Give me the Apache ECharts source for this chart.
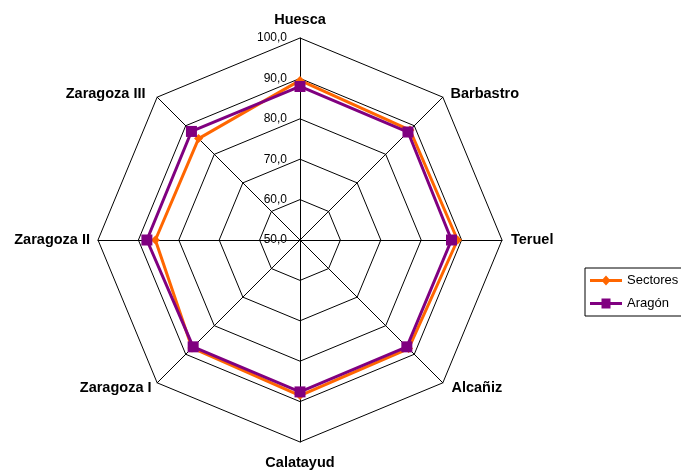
<!DOCTYPE html>
<html><head><meta charset="utf-8">
<script src="https://cdn.jsdelivr.net/npm/echarts@6/dist/echarts.min.js"></script>
<style>html,body{margin:0;padding:0;background:#fff}#c{width:681px;height:471px}</style>
</head><body><div id="c"></div>
<script>
const categories = ['Huesca','Barbastro','Teruel','Alcañiz','Calatayud','Zaragoza I','Zaragoza II','Zaragoza III'];
const sectores = [89.5, 88.5, 89.0, 88.0, 88.5, 87.8, 85.8, 85.5];
const aragon = [88.0, 87.8, 87.5, 87.4, 87.6, 87.4, 87.9, 88.0];
const tickValues = [50, 60, 70, 80, 90, 100];
const axisMin = 50, axisMax = 100;

// ECharts radar runs counter-clockwise; reorder so the chart reads clockwise
const order = [0].concat(categories.map((_, i) => i).slice(1).reverse());
const pick = arr => order.map(i => arr[i]);

const font = 'Liberation Sans, Arial, sans-serif';
const nameBase = { color: '#000', fontFamily: font, fontWeight: 'bold', fontSize: 14.5 };
// per-position label nudges (padding) to match the reference placement
const namePads = [[0,0,3,0],[4,0,0,2],[0,0,0,1],[0,0,0,3],[5,0,0,0],[0,0,0,0],[0,0,0,0],[4,6,0,0]];
const rich = {};
namePads.forEach((p, i) => { rich['n' + i] = Object.assign({ padding: p }, nameBase); });

const orangeIcon = 'path://M0,3.5L32,3.5L32,6.5L0,6.5Z M16,0L20.5,5L16,10L11.5,5Z';
const purpleIcon = 'path://M0,3.5L32,3.5L32,6.5L0,6.5Z M11.5,0L20.5,0L20.5,10L11.5,10Z';
const chart = echarts.init(document.getElementById('c'));
chart.setOption({
  animation: false,
  backgroundColor: '#fff',
  radar: {
    center: [300, 240],
    radius: 202,
    startAngle: 90,
    shape: 'polygon',
    splitNumber: 5,
    nameGap: 8,
    axisName: Object.assign({
      rich: rich,
      formatter: name => '{n' + categories.indexOf(name) + '|' + name + '}'
    }, nameBase),
    indicator: pick(categories).map(n => ({ name: n, min: axisMin, max: axisMax })),
    axisLine: { lineStyle: { color: '#000', width: 1 } },
    splitLine: { lineStyle: { color: '#000', width: 1 } },
    splitArea: { show: false },
    axisLabel: { show: false }
  },
  grid: { left: 300, top: 38, width: 10, height: 202 },
  xAxis: { type: 'value', show: false },
  yAxis: {
    type: 'value', min: axisMin, max: axisMax, interval: 10,
    axisLine: { show: false }, axisTick: { show: false }, splitLine: { show: false },
    axisLabel: { margin: 13, color: '#000', fontFamily: font, fontSize: 12,
      formatter: v => v.toFixed(1).replace('.', ',') }
  },
  legend: {
    orient: 'vertical', left: 585, top: 268,
    itemWidth: 32, itemHeight: 10, itemGap: 10,
    padding: [6, 20, 6, 5],
    borderColor: '#000', borderWidth: 1, borderRadius: 0,
    backgroundColor: '#fff',
    textStyle: { color: '#000', fontFamily: font, fontSize: 13 },
    data: [{ name: 'Sectores', icon: orangeIcon }, { name: 'Aragón', icon: purpleIcon }]
  },
  series: [{
    type: 'radar',
    data: [
      { name: 'Sectores', value: pick(sectores), symbol: 'diamond', symbolSize: 9,
        lineStyle: { color: '#FF6600', width: 3 }, itemStyle: { color: '#FF6600' } },
      { name: 'Aragón', value: pick(aragon), symbol: 'rect', symbolSize: 11,
        lineStyle: { color: '#800080', width: 3 }, itemStyle: { color: '#800080' } }
    ]
  }]
});
</script></body></html>
